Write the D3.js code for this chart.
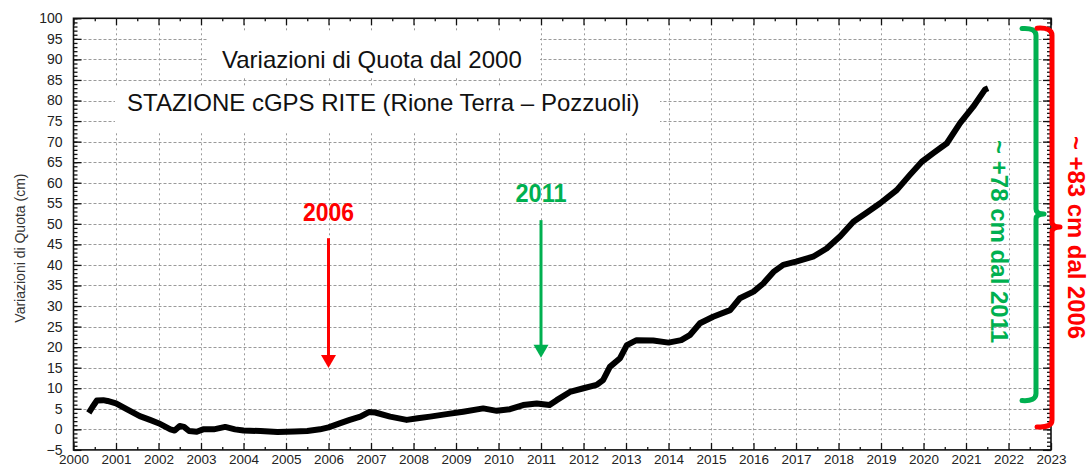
<!DOCTYPE html>
<html>
<head>
<meta charset="utf-8">
<script src="https://cdn.jsdelivr.net/npm/d3@7"></script>
<style>
  html, body { margin: 0; padding: 0; background: #fff; }
  svg { display: block; font-family: "Liberation Sans", Arial, sans-serif; }
</style>
</head>
<body>
<div id="chart"></div>
<script>
// Vertical displacement of the RITE cGPS station (cm)
const years = [2000.36, 2000.45, 2000.55, 2000.7, 2000.8, 2001.0, 2001.25, 2001.56, 2001.8, 2002.0,
  2002.28, 2002.38, 2002.5, 2002.6, 2002.72, 2002.9, 2003.05, 2003.3, 2003.57, 2003.8,
  2004.0, 2004.4, 2004.8, 2005.2, 2005.5, 2005.8, 2006.0, 2006.28, 2006.5, 2006.75,
  2006.95, 2007.1, 2007.45, 2007.84, 2008.1, 2008.39, 2008.78, 2009.17, 2009.64, 2009.96,
  2010.27, 2010.58, 2010.9, 2011.2, 2011.37, 2011.68, 2012.0, 2012.31, 2012.46, 2012.62,
  2012.86, 2013.02, 2013.25, 2013.64, 2014.0, 2014.3, 2014.5, 2014.74, 2015.05, 2015.45,
  2015.68, 2016.0, 2016.23, 2016.47, 2016.7, 2017.0, 2017.4, 2017.72, 2018.04, 2018.35,
  2018.66, 2018.98, 2019.37, 2019.68, 2019.96, 2020.23, 2020.55, 2020.86, 2021.17, 2021.45, 2021.52]
const quota = [4.0, 5.5, 7.0, 7.1, 6.9, 6.3, 4.9, 3.2, 2.3, 1.5,
  0.0, -0.3, 0.8, 0.6, -0.4, -0.6, 0.0, 0.0, 0.6, 0.0,
  -0.3, -0.4, -0.65, -0.5, -0.4, 0.0, 0.5, 1.5, 2.3, 3.1,
  4.2, 4.1, 3.1, 2.3, 2.7, 3.1, 3.7, 4.3, 5.1, 4.5,
  4.9, 5.9, 6.3, 5.9, 7.1, 9.1, 10.0, 10.8, 12.0, 15.2,
  17.3, 20.5, 21.7, 21.6, 21.1, 21.7, 22.9, 25.8, 27.4, 29.0,
  31.9, 33.5, 35.5, 38.3, 40.0, 40.8, 42.0, 44.0, 47.0, 50.5,
  52.7, 55.0, 58.2, 61.9, 65.1, 67.2, 69.6, 74.5, 78.5, 82.7, 83.0]

const yearTicks = d3.range(2000, 2024)
const quotaTicks = d3.range(-5, 101, 5)

// arrows: year, label, colour, start and tip level (cm)
const arrows = [
  { year: 2006, label: "2006", color: "#ff0000", from: 46.5, to: 14.9, labelAt: 50.6 },
  { year: 2011, label: "2011", color: "#00b050", from: 50.9, to: 17.4, labelAt: 55.3 }
]
// braces on the right: range in cm and label
const braces = [
  { lo: 7.0, hi: 97.5, mid: 52.4, color: "#00b050", label: "~ +78 cm dal 2011" },
  { lo: 0.6, hi: 97.6, mid: 49.2, color: "#ff0000", label: "~ +83 cm dal 2006" }
]

const width = 1088, height = 466
const x = d3.scaleLinear().domain([2000, 2023]).range([73.5, 1051])
const y = d3.scaleLinear().domain([-5, 100]).range([449.9, 18.3])

const svg = d3.select("#chart").append("svg")
  .attr("width", width).attr("height", height)

// grid
const grid = svg.append("g").attr("stroke", "#9a9a9a").attr("stroke-width", 1)
grid.selectAll("line.h").data(quotaTicks.filter(v => v > -5 && v < 100)).join("line")
  .attr("x1", x(2000)).attr("x2", x(2023))
  .attr("y1", d => Math.round(y(d)) + 0.5).attr("y2", d => Math.round(y(d)) + 0.5)
  .attr("stroke-dasharray", "3,2")
grid.selectAll("line.v").data(yearTicks.filter(v => v > 2000 && v < 2023)).join("line")
  .attr("x1", d => Math.round(x(d)) + 0.5).attr("x2", d => Math.round(x(d)) + 0.5)
  .attr("y1", y(100)).attr("y2", y(-5))
  .attr("stroke-dasharray", "2,3")

// title boxes
const t1 = svg.append("g")
t1.append("rect").attr("x", 207).attr("y", 31).attr("width", 333).attr("height", 46).attr("fill", "#fff")
t1.append("text").attr("x", 222).attr("y", 68).attr("font-size", 24).attr("fill", "#111")
  .text("Variazioni di Quota dal 2000")
const t2 = svg.append("g")
t2.append("rect").attr("x", 115).attr("y", 86).attr("width", 545).attr("height", 45).attr("fill", "#fff")
t2.append("text").attr("x", 127).attr("y", 110.5).attr("font-size", 24).attr("fill", "#111")
  .text("STAZIONE cGPS RITE (Rione Terra \u2013 Pozzuoli)")

// axes
const styleAxis = size => g => {
  g.select(".domain").remove()
  g.selectAll(".tick line").attr("stroke", "#111").attr("stroke-width", 1.3)
  g.selectAll(".tick text").attr("fill", "#222").attr("font-size", size)
    .attr("font-family", "'Liberation Sans', Arial, sans-serif")
}
svg.append("g").attr("transform", `translate(${x(2000)},0)`)
  .call(d3.axisLeft(y).tickValues(quotaTicks).tickSize(-8).tickPadding(11).tickFormat(d3.format("d")))
  .call(styleAxis(14))
svg.append("g").attr("transform", `translate(${x(2000)},0)`)
  .call(d3.axisLeft(y).tickValues(d3.range(-5, 101, 1)).tickSize(-4).tickFormat(""))
  .call(styleAxis(14))
svg.append("g").attr("transform", `translate(${x(2023)},0)`)
  .call(d3.axisRight(y).tickValues(quotaTicks).tickSize(-8).tickFormat(""))
  .call(styleAxis(14))
svg.append("g").attr("transform", `translate(${x(2023)},0)`)
  .call(d3.axisRight(y).tickValues(d3.range(-5, 101, 1)).tickSize(-4).tickFormat(""))
  .call(styleAxis(14))
svg.append("g").attr("transform", `translate(0,${y(-5)})`)
  .call(d3.axisBottom(x).tickValues(yearTicks).tickSize(-7).tickPadding(5).tickFormat(d3.format("d")))
  .call(styleAxis(13.5))
svg.append("g").attr("transform", `translate(0,${y(-5)})`)
  .call(d3.axisBottom(x).tickValues(yearTicks.slice(0, -1).map(v => v + 0.5)).tickSize(-3).tickFormat(""))
  .call(styleAxis(13.5))
svg.append("g").attr("transform", `translate(0,${y(100)})`)
  .call(d3.axisTop(x).tickValues(yearTicks).tickSize(-7).tickFormat(""))
  .call(styleAxis(13.5))
svg.append("g").attr("transform", `translate(0,${y(100)})`)
  .call(d3.axisTop(x).tickValues(yearTicks.slice(0, -1).map(v => v + 0.5)).tickSize(-3).tickFormat(""))
  .call(styleAxis(13.5))

svg.append("rect")
  .attr("x", x(2000)).attr("y", y(100))
  .attr("width", x(2023) - x(2000)).attr("height", y(-5) - y(100))
  .attr("fill", "none").attr("stroke", "#111").attr("stroke-width", 1.6)

svg.append("text")
  .attr("transform", `translate(25,${(y(100) + y(-5)) / 2 + 14}) rotate(-90)`)
  .attr("text-anchor", "middle").attr("font-size", 14).attr("fill", "#333")
  .text("Variazioni di Quota (cm)")

// series
const series = years.map((t, i) => [t, quota[i]])
svg.append("path").datum(series)
  .attr("d", d3.line().x(d => x(d[0])).y(d => y(d[1])).curve(d3.curveLinear))
  .attr("fill", "none").attr("stroke", "#000").attr("stroke-width", 6)
  .attr("stroke-linejoin", "round").attr("stroke-linecap", "butt")

// arrows
arrows.forEach(a => {
  const ax = x(a.year)
  const tip = y(a.to)
  svg.append("line").attr("x1", ax).attr("x2", ax)
    .attr("y1", y(a.from)).attr("y2", tip - 12)
    .attr("stroke", a.color).attr("stroke-width", 3)
  svg.append("path")
    .attr("d", `M${ax - 7.5},${tip - 13} L${ax + 7.5},${tip - 13} L${ax},${tip} Z`)
    .attr("fill", a.color)
  svg.append("text").attr("x", ax).attr("y", y(a.labelAt))
    .attr("text-anchor", "middle").attr("font-size", 25).attr("font-weight", "bold")
    .attr("fill", a.color).attr("textLength", 51).attr("lengthAdjust", "spacingAndGlyphs")
    .text(a.label)
})

// braces
const braceX = [1036, 1052]
const labelX = [999, 1076]
braces.forEach((b, i) => {
  const bx = braceX[i]
  const top = y(b.hi), bot = y(b.lo), mid = y(b.mid)
  const hook = i === 0 ? 14 : 15
  svg.append("path")
    .attr("d", `M${bx - hook},${top} Q${bx},${top - 1} ${bx},${top + 7} L${bx},${mid - 5} Q${bx},${mid} ${bx + 8},${mid} Q${bx},${mid} ${bx},${mid + 5} L${bx},${bot - 7} Q${bx},${bot + 1} ${bx - hook},${bot}`)
    .attr("fill", "none").attr("stroke", b.color).attr("stroke-width", 5)
    .attr("stroke-linecap", "round").attr("stroke-linejoin", "round")
  svg.append("text")
    .attr("transform", `translate(${labelX[i]},${(top + bot) / 2 + (i === 0 ? 27 : 10)}) rotate(90)`)
    .attr("text-anchor", "middle").attr("dominant-baseline", "central")
    .attr("font-size", 24).attr("font-weight", "bold").attr("fill", b.color)
    .attr("textLength", 203).attr("lengthAdjust", "spacingAndGlyphs")
    .text(b.label)
})
</script>
</body>
</html>
